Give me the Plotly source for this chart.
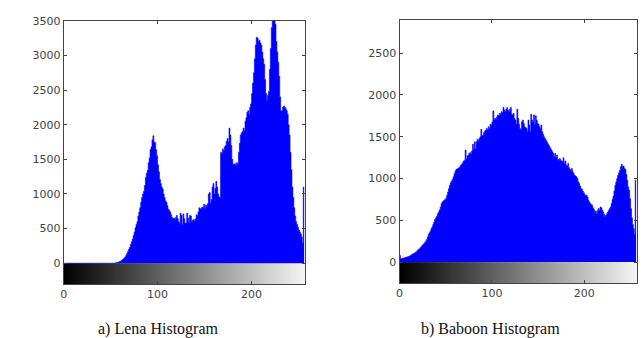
import plotly.graph_objects as go

bins = list(range(256))

lena_counts = (
    [0] * 55 +
    [5, 8, 12, 16, 20, 28, 38, 48, 60, 72, 90, 110, 140, 170, 200,            # 55-69
     230, 270, 310, 350, 400, 450, 510, 560, 600, 680, 740, 800, 880, 950, 1000,  # 70-84
     1040, 1120, 1240, 1300, 1340, 1450, 1520, 1640, 1680, 1780, 1840, 1750, 1740, 1640, 1550,  # 85-99
     1420, 1320, 1210, 1150, 1100, 1070, 1000, 950, 900, 880, 830, 780, 765, 740, 700,  # 100-114
     660, 645, 650, 640, 660, 690, 640, 600, 575, 720, 690, 560, 710, 640, 575,  # 115-129
     580, 720, 650, 580, 690, 680, 600, 620, 630, 610, 640, 700, 680, 740, 800,  # 130-144
     790, 780, 810, 800, 850, 790, 840, 820, 860, 1000, 1020, 870, 920, 1100, 1150,  # 145-159
     1000, 1080, 1180, 1100, 1000, 960, 940, 1600, 1580, 1650, 1620, 1680, 1700, 1760, 1800,  # 160-174
     1750, 1950, 1850, 1700, 1500, 1430, 1420, 1440, 1410, 1450, 1430, 1600, 1730, 1850, 1880,  # 175-189
     1900, 1950, 1920, 2050, 2100, 2180, 2200, 2150, 2250, 2300, 2450, 2600, 2750, 2950, 3150,  # 190-204
     3260, 3250, 3200, 3220, 3180, 3150, 3050, 2950, 2870, 2650, 2450, 2350, 2420, 2480, 2800,  # 205-219
     3100, 3400, 3800, 3900, 3700, 3450, 3200, 3050, 2900, 2700, 2400, 2200, 2200, 2250, 2270,  # 220-234
     2250, 2230, 2200, 2150, 2000, 1850, 1600, 1350, 1100, 950, 800, 680, 600, 560, 520,  # 235-249
     480, 450, 420, 380, 300, 1100]  # 250-255
)

baboon_counts = [
    80, 40, 42, 45, 48, 52, 55, 58, 62, 66, 70, 75, 82, 90, 97,  # 0-14
    105, 110, 118, 125, 140, 150, 156, 170, 185, 195, 210, 220, 235, 250, 270,  # 15-29
    300, 330, 350, 370, 400, 420, 450, 480, 510, 530, 550, 580, 600, 625, 660,  # 30-44
    700, 720, 730, 740, 750, 765, 800, 840, 880, 920, 950, 970, 990, 1020, 1060,  # 45-59
    1090, 1110, 1115, 1120, 1130, 1140, 1160, 1170, 1190, 1210, 1220, 1340, 1230, 1270, 1280,  # 60-74
    1300, 1310, 1290, 1330, 1410, 1350, 1440, 1360, 1440, 1470, 1450, 1480, 1500, 1590, 1510,  # 75-89
    1520, 1550, 1570, 1580, 1600, 1580, 1620, 1600, 1650, 1640, 1680, 1810, 1700, 1720, 1710,  # 90-104
    1740, 1760, 1750, 1780, 1770, 1800, 1790, 1850, 1820, 1800, 1830, 1850, 1820, 1800, 1830,  # 105-119
    1850, 1770, 1760, 1780, 1720, 1700, 1650, 1830, 1720, 1650, 1600, 1580, 1680, 1700, 1660,  # 120-134
    1620, 1610, 1600, 1560, 1700, 1640, 1560, 1770, 1700, 1680, 1760, 1650, 1750, 1700, 1660,  # 135-149
    1650, 1620, 1600, 1640, 1560, 1530, 1500, 1480, 1460, 1440, 1420, 1400, 1380, 1360, 1340,  # 150-164
    1320, 1300, 1260, 1300, 1250, 1280, 1230, 1220, 1240, 1220, 1210, 1200, 1250, 1180, 1210,  # 165-179
    1160, 1150, 1180, 1130, 1110, 1100, 1120, 1080, 1060, 1040, 1030, 1020, 1000, 960, 940,  # 180-194
    910, 880, 870, 850, 830, 810, 790, 800, 780, 740, 720, 700, 690, 680, 650,  # 195-209
    630, 600, 610, 580, 620, 640, 620, 660, 650, 620, 600, 570, 545, 560, 580,  # 210-224
    600, 620, 640, 660, 700, 750, 790, 850, 920, 960, 1000, 1040, 1070, 1100, 1140,  # 225-239
    1170, 1140, 1150, 1120, 1110, 1050, 980, 900, 860, 760, 640, 530, 450, 400, 330,  # 240-254
    980,  # 255
]

x_ticks = [0, 100, 200]
lena_y_ticks = [0, 500, 1000, 1500, 2000, 2500, 3000, 3500]
baboon_y_ticks = [0, 500, 1000, 1500, 2000, 2500]
captions = ["a) Lena Histogram", "b) Baboon Histogram"]

W, H = 643, 338
gray_levels = list(range(256))
edges = list(range(257))

fig = go.Figure()

panels = [
    dict(counts=lena_counts, yt=lena_y_ticks, yr=[-300, 3500], xa="x", ya="y",
         xd=[60 / W, 303 / W], yd=[1 - 283 / H, 1 - 15 / H], cx=155),
    dict(counts=baboon_counts, yt=baboon_y_ticks, yr=[-250, 2900], xa="x2", ya="y2",
         xd=[398 / W, 637 / W], yd=[1 - 282 / H, 1 - 14 / H], cx=490),
]

for i, p in enumerate(panels):
    fig.add_trace(go.Heatmap(
        z=[gray_levels], x=edges, y=[p["yr"][0], 0],
        colorscale=[[0, "#000000"], [1, "#f4f4f4"]], showscale=False,
        hoverinfo="skip", xaxis=p["xa"], yaxis=p["ya"]))
    # histogram drawn as a filled step outline (one step per gray-level bin)
    fig.add_trace(go.Scatter(
        x=edges, y=p["counts"] + p["counts"][-1:], mode="lines", line_shape="hv",
        line=dict(width=0.6, color="#0000ff"), fill="tozeroy", fillcolor="#0000ff",
        xaxis=p["xa"], yaxis=p["ya"], showlegend=False, hoverinfo="skip"))

axis_common = dict(showgrid=False, zeroline=False, showline=True, linecolor="#444444",
                   linewidth=1, mirror="allticks", ticks="inside", ticklen=3,
                   tickcolor="#444444",
                   tickfont=dict(family="DejaVu Sans", size=11, color="#444444"))

layout = dict(width=W, height=H, margin=dict(l=0, r=0, t=0, b=0),
              plot_bgcolor="white", paper_bgcolor="white", showlegend=False)
for i, p in enumerate(panels):
    sfx = "" if i == 0 else "2"
    layout["xaxis" + sfx] = dict(axis_common, domain=p["xd"], range=[0, 257],
                                 tickvals=x_ticks, anchor="y" + sfx)
    layout["yaxis" + sfx] = dict(axis_common, domain=p["yd"], range=p["yr"],
                                 tickvals=p["yt"], anchor="x" + sfx)
fig.update_layout(**layout)

for i, p in enumerate(panels):
    fig.add_annotation(text=captions[i], x=p["cx"] / W, y=1 - 329 / H, xref="paper", yref="paper",
                       showarrow=False, xanchor="center", yanchor="middle",
                       font=dict(family="Liberation Serif, Times New Roman", size=16, color="#111111"))

fig.write_html("out.html", config={"displayModeBar": False},
               post_script="document.body.style.margin='0';document.body.style.overflow='hidden';")
